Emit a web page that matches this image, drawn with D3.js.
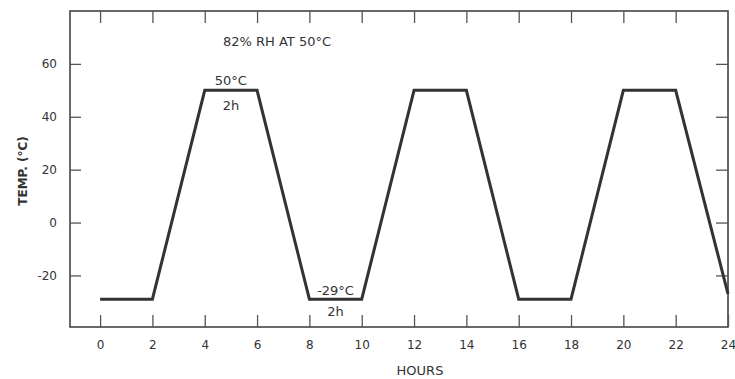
<!DOCTYPE html>
<html><head><meta charset="utf-8">
<script src="https://cdn.jsdelivr.net/npm/d3@7/dist/d3.min.js"></script>
<style>body{margin:0;background:#fff}svg{display:block}text{font-family:"DejaVu Sans",sans-serif;fill:#333}</style>
</head><body><svg id="c" width="735" height="379"></svg>
<script>
const hours = [0, 2, 4, 6, 8, 10, 12, 14, 16, 18, 20, 22, 24];
const temps = [-29, -29, 50, 50, -29, -29, 50, 50, -29, -29, 50, 50, -27];
const xTicks = [0, 2, 4, 6, 8, 10, 12, 14, 16, 18, 20, 22, 24];
const yTicks = [-20, 0, 20, 40, 60];
const annotations = [
  {x: 5, y: 50, dy: -5, text: "50°C"},
  {x: 5, y: 50, dy: 20, text: "2h"},
  {x: 9, y: -29, dy: -4, text: "-29°C"},
  {x: 9, y: -29, dy: 17, text: "2h"}
];

const svg = d3.select("#c");
const L = 70, R = 728, T = 11, B = 327;
const x = d3.scaleLinear().domain([-1.15, 24]).range([L, R]);
const y = d3.scaleLinear().domain([-39.5, 80]).range([B, T]);
const ink = "#333";
const FF = '"DejaVu Sans",sans-serif';

// frame
svg.append("rect").attr("x", L).attr("y", T).attr("width", R - L).attr("height", B - T)
  .attr("fill", "none").attr("stroke", "#444").attr("stroke-width", 1.6);

// axes with inward ticks
const gb = svg.append("g").attr("transform", `translate(0,${B})`)
  .call(d3.axisBottom(x).tickValues(xTicks).tickSizeInner(-12).tickSizeOuter(0).tickFormat(d => String(d)));
const gt = svg.append("g").attr("transform", `translate(0,${T})`)
  .call(d3.axisTop(x).tickValues(xTicks.filter(d => d < 24)).tickSizeInner(-12).tickSizeOuter(0).tickFormat(""));
const gl = svg.append("g").attr("transform", `translate(${L},0)`)
  .call(d3.axisLeft(y).tickValues(yTicks).tickSizeInner(-11).tickSizeOuter(0).tickPadding(13).tickFormat(d => String(d)));
const gr = svg.append("g").attr("transform", `translate(${R},0)`)
  .call(d3.axisRight(y).tickValues(yTicks).tickSizeInner(-12).tickSizeOuter(0).tickFormat(""));
[gb, gt, gl, gr].forEach(g => {
  g.select(".domain").remove();
  g.selectAll(".tick line").attr("stroke", "#555").attr("stroke-width", 1.3);
  g.selectAll("text").attr("font-size", 12).attr("fill", ink).style("font-family", FF);
});
gb.selectAll(".tick text").attr("dy", "0.71em").attr("y", 13);

// data line
svg.append("path").datum(hours.map((h, i) => [h, temps[i]]))
  .attr("d", d3.line().x(d => x(d[0])).y(d => y(d[1])))
  .attr("fill", "none").attr("stroke", ink).attr("stroke-width", 3).attr("stroke-linejoin", "miter");

// annotations
svg.selectAll("text.ann").data(annotations).join("text").attr("class", "ann")
  .attr("x", d => x(d.x)).attr("y", d => y(d.y) + d.dy)
  .attr("text-anchor", "middle").attr("font-size", 13).text(d => d.text);

svg.append("text").attr("x", 277).attr("y", 46).attr("text-anchor", "middle")
  .attr("font-size", 13).text("82% RH AT 50°C");

// axis titles
svg.append("text").attr("x", 420).attr("y", 375).attr("text-anchor", "middle")
  .attr("font-size", 13).text("HOURS");
svg.append("text").attr("transform", "translate(27,171) rotate(-90)")
  .attr("text-anchor", "middle").attr("font-size", 12).attr("font-weight", "bold").text("TEMP. (°C)");
</script></body></html>
